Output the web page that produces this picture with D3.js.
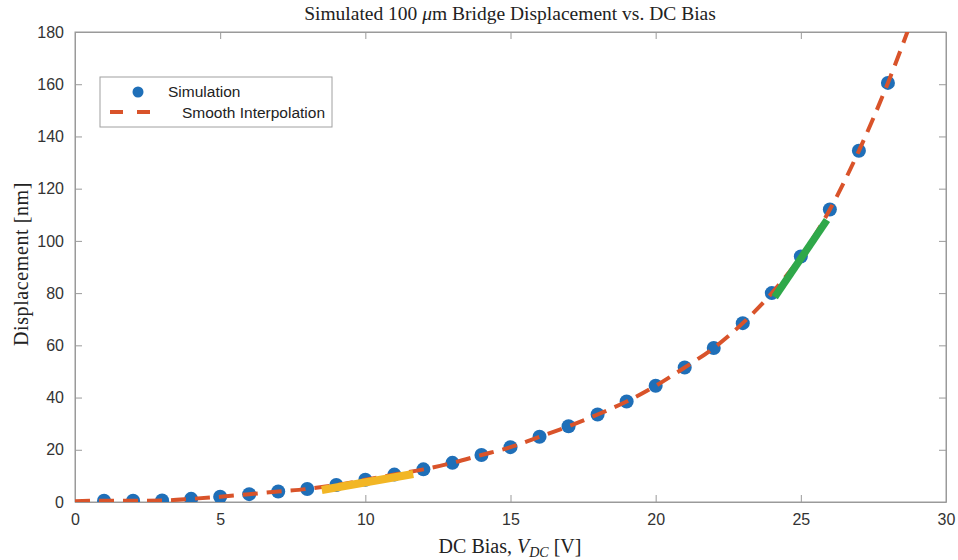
<!DOCTYPE html>
<html><head><meta charset="utf-8">
<script src="https://cdn.jsdelivr.net/npm/d3@7"></script>
<style>body{margin:0;background:#fff}svg{display:block}</style>
</head><body>
<svg id="c" width="958" height="560"></svg>
<script>
// Simulation points
const simX = [1,2,3,4,5,6,7,8,9,10,11,12,13,14,15,16,17,18,19,20,21,22,23,24,25,26,27,28];
const simY = [0.5,0.5,0.6,1.2,2,3,4,5,6.5,8.5,10.5,12.5,15,18,21,25,29,33.5,38.5,44.5,51.5,59,68.5,80,94,112,134.5,160.5];
// Smooth interpolation (dashed) nodes
const interpX = [0,1,2,3,4,5,6,7,8,9,10,11,12,13,14,15,16,17,18,19,20,21,22,23,24,25,26,27,28,29];
const interpY = [0.3,0.5,0.5,0.6,1.2,2,3,4,5,6.5,8.5,10.5,12.5,15,18,21,25,29,33.5,38.5,44.5,51.5,59,68.5,80,94,112,134.5,160.5,190];
// Highlight segments
const yellowX = [8.5, 11.65], yellowY = [4.6, 10.7];
const greenX = [24.1, 25.9], greenY = [78.5, 108];
const xTicks = [0,5,10,15,20,25,30];
const yTicks = [0,20,40,60,80,100,120,140,160,180];

const svg = d3.select("#c");
const L = 75, R = 946, T = 32, B = 502;
const x = d3.scaleLinear().domain([0,30]).range([L,R]);
const y = d3.scaleLinear().domain([0,180]).range([B,T]);
const axisCol = "#9a9a9a", textCol = "#333";

svg.append("defs").append("clipPath").attr("id","clip")
  .append("rect").attr("x",L).attr("y",T).attr("width",R-L).attr("height",B-T);

// frame
svg.append("rect").attr("x",L).attr("y",T).attr("width",R-L).attr("height",B-T)
  .attr("fill","none").attr("stroke",axisCol).attr("stroke-width",1);

// axes
const gx = svg.append("g").attr("transform",`translate(0,${B})`)
  .call(d3.axisBottom(x).tickValues(xTicks).tickSizeInner(-7).tickSizeOuter(0).tickPadding(12));
const gxTop = svg.append("g").attr("transform",`translate(0,${T})`)
  .call(d3.axisTop(x).tickValues(xTicks).tickSizeInner(-7).tickSizeOuter(0).tickFormat(""));
const gy = svg.append("g").attr("transform",`translate(${L},0)`)
  .call(d3.axisLeft(y).tickValues(yTicks).tickSizeInner(-7).tickSizeOuter(0).tickPadding(11));
const gyR = svg.append("g").attr("transform",`translate(${R},0)`)
  .call(d3.axisRight(y).tickValues(yTicks).tickSizeInner(-7).tickSizeOuter(0).tickFormat(""));
[gx,gxTop,gy,gyR].forEach(g=>{
  g.select(".domain").attr("stroke",axisCol);
  g.selectAll(".tick line").attr("stroke",axisCol);
  g.selectAll(".tick text").attr("fill",textCol).attr("font-family","Liberation Sans, Arial, sans-serif").attr("font-size",16);
});

const plot = svg.append("g").attr("clip-path","url(#clip)");
// markers
plot.selectAll("circle.sim").data(simX).join("circle").attr("class","sim")
  .attr("cx",(d)=>x(d)).attr("cy",(d,i)=>y(simY[i])).attr("r",7).attr("fill","#1f6fb8");
// dashed interpolation
const line = d3.line().x(d=>x(d[0])).y(d=>y(d[1])).curve(d3.curveMonotoneX);
plot.append("path").datum(interpX.map((v,i)=>[v,interpY[i]]))
  .attr("d",line).attr("fill","none").attr("stroke","#d9532a").attr("stroke-width",4)
  .attr("stroke-dasharray","15,9");
// highlights
const seg = d3.line().x(d=>x(d[0])).y(d=>y(d[1]));
plot.append("path").datum(yellowX.map((v,i)=>[v,yellowY[i]])).attr("d",seg)
  .attr("stroke","#f2b625").attr("stroke-width",8).attr("fill","none");
plot.append("path").datum(greenX.map((v,i)=>[v,greenY[i]])).attr("d",seg)
  .attr("stroke","#2fa84a").attr("stroke-width",7.5).attr("fill","none");

// legend
const lg = svg.append("g");
lg.append("rect").attr("x",100).attr("y",77).attr("width",232).attr("height",50)
  .attr("fill","#fff").attr("stroke","#a0a0a0").attr("stroke-width",1);
lg.append("circle").attr("cx",138).attr("cy",92).attr("r",5.5).attr("fill","#1f6fb8");
lg.append("line").attr("x1",110).attr("x2",150).attr("y1",112).attr("y2",112)
  .attr("stroke","#d9532a").attr("stroke-width",4).attr("stroke-dasharray","13,14");
lg.append("text").attr("x",168).attr("y",97).text("Simulation")
  .attr("font-family","Liberation Sans, Arial, sans-serif").attr("font-size",15.5).attr("fill","#222");
lg.append("text").attr("x",182).attr("y",118).text("Smooth Interpolation")
  .attr("font-family","Liberation Sans, Arial, sans-serif").attr("font-size",15.5).attr("fill","#222");

// title
const serif = "Liberation Serif, DejaVu Serif, serif";
const title = svg.append("text").attr("x",510).attr("y",20).attr("text-anchor","middle")
  .attr("font-family",serif).attr("font-size",19.5).attr("fill","#222");
title.append("tspan").text("Simulated 100 ");
title.append("tspan").attr("font-style","italic").text("μ");
title.append("tspan").text("m Bridge Displacement vs. DC Bias");

// x label
const xl = svg.append("text").attr("x",510).attr("y",553).attr("text-anchor","middle")
  .attr("font-family",serif).attr("font-size",20).attr("fill","#222");
xl.append("tspan").text("DC Bias, ");
xl.append("tspan").attr("font-style","italic").text("V");
xl.append("tspan").attr("font-style","italic").attr("font-size",14).attr("dy",4).text("DC");
xl.append("tspan").attr("dy",-4).text(" [V]");

// y label
svg.append("text").attr("transform",`translate(28,${264}) rotate(-90)`).attr("text-anchor","middle")
  .attr("font-family",serif).attr("font-size",20).attr("letter-spacing",0.6).attr("fill","#222").text("Displacement [nm]");
</script>
</body></html>
